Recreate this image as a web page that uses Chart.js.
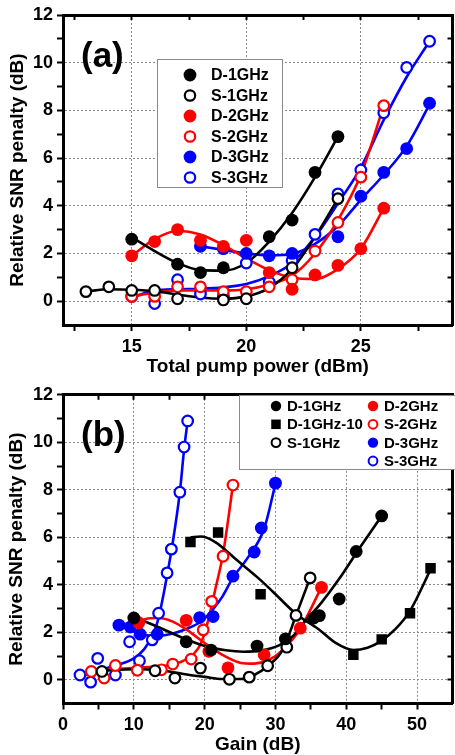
<!DOCTYPE html>
<html>
<head>
<meta charset="utf-8">
<script src="https://cdn.jsdelivr.net/npm/chart.js@4.4.1/dist/chart.umd.min.js"></script>
<style>
  html, body { margin: 0; padding: 0; background: #fff; overflow: hidden; }
  #wrap { position: relative; width: 455px; height: 755px; overflow: hidden; }
  canvas { position: absolute; left: 0; }
</style>
</head>
<body>
<div id="wrap">
  <canvas id="chartA" width="460" height="380" style="top:0"></canvas>
  <canvas id="chartB" width="460" height="375" style="top:380px"></canvas>
</div>
<script>
// ---------- panel (a): penalty vs total pump power (dBm) ----------
var aD1x = [15, 17, 18, 19, 21, 22, 23, 24];
var aD1y = [2.6, 1.55, 1.2, 1.4, 2.7, 3.4, 5.4, 6.9];
var aS1x = [13, 14, 15, 16, 17, 19, 20, 22, 24];
var aS1y = [0.4, 0.6, 0.45, 0.45, 0.1, 0.05, 0.1, 1.4, 4.3];
var aD2x = [15, 16, 17, 18, 19, 20, 21, 22, 23, 24, 25, 26];
var aD2y = [1.9, 2.5, 3.0, 2.55, 2.3, 2.55, 1.2, 0.5, 1.1, 1.5, 2.2, 3.9];
var aS2x = [15, 16, 17, 18, 19, 20, 21, 22, 23, 24, 25, 26];
var aS2y = [0.2, 0.2, 0.6, 0.6, 0.4, 0.4, 0.6, 0.9, 2.1, 3.3, 5.2, 8.2];
var aD3x = [18, 19, 20, 21, 22, 24, 25, 26, 27, 28];
var aD3y = [2.3, 2.2, 2.0, 1.9, 2.0, 2.7, 4.4, 5.4, 6.4, 8.3];
var aS3x = [15, 16, 17, 18, 19, 20, 21, 22, 23, 24, 25, 26, 27, 28];
var aS3y = [0.2, -0.1, 0.9, 0.3, 0.2, 1.6, 0.8, 1.7, 2.8, 4.5, 5.5, 7.9, 9.8, 10.9];

// fitted curves in (a)
var aD1fx = [15, 16, 17, 18, 19, 20, 21, 22, 23, 24];
var aD1fy = [2.68, 2.1, 1.6, 1.3, 1.28, 1.6, 2.5, 3.7, 5.2, 6.9];
var aS1fx = [13, 14, 15, 16, 17, 18, 19, 20, 21, 22, 23, 24];
var aS1fy = [0.4, 0.5, 0.48, 0.42, 0.28, 0.15, 0.1, 0.2, 0.55, 1.35, 2.7, 4.3];
var aD2fx = [15, 16, 17, 18, 19, 20, 21, 22, 23, 24, 25, 26];
var aD2fy = [1.9, 2.6, 2.95, 2.8, 2.35, 1.8, 1.3, 0.98, 0.93, 1.35, 2.2, 3.9];
var aS2fx = [15, 16, 17, 18, 19, 20, 21, 22, 23, 24, 25, 26];
var aS2fy = [0.2, 0.35, 0.45, 0.45, 0.45, 0.5, 0.7, 1.07, 2.0, 3.4, 5.3, 8.2];
var aD3fx = [18, 19, 20, 21, 22, 23, 24, 25, 26, 27, 28];
var aD3fy = [2.3, 2.15, 2.0, 1.92, 1.98, 2.4, 3.15, 4.25, 5.3, 6.5, 8.25];
var aS3fx = [15, 16, 17, 18, 19, 20, 21, 22, 23, 24, 25, 26, 27, 28];
var aS3fy = [0.15, 0.45, 0.5, 0.52, 0.58, 0.72, 1.05, 1.6, 2.7, 4.1, 5.6, 7.6, 9.4, 10.9];

// ---------- panel (b): penalty vs gain (dB) ----------
var bD1x = [10, 17.4, 20.9, 27.4, 31.4, 35.4, 36.2, 39, 41.4, 45];
var bD1y = [2.6, 1.6, 1.25, 1.42, 1.72, 2.6, 2.7, 3.4, 5.4, 6.9];
var bD10x = [18, 21.9, 27.9, 41, 45, 49, 51.9];
var bD10y = [5.8, 6.2, 3.6, 1.05, 1.7, 2.8, 4.7];
var bS1x = [5.5, 13, 15.8, 19.4, 23.5, 26.3, 28.9, 31.6, 32.9, 34.9];
var bS1y = [0.35, 0.38, 0.07, 0.49, 0.02, 0.11, 0.59, 1.37, 2.71, 4.29];
var bD2x = [10.7, 17.4, 20.6, 23.3, 28.4, 33.5, 36.5];
var bD2y = [2.4, 2.5, 1.2, 0.5, 1.05, 2.17, 3.89];
var bS2x = [4, 5.8, 7.4, 10.5, 13.9, 15.5, 18.1, 19.8, 21, 22.6, 24];
var bS2y = [0.35, 0.07, 0.6, 0.4, 0.42, 0.66, 0.87, 2.1, 3.3, 5.2, 8.2];
var bD3x = [7.9, 9.5, 10.9, 13.3, 19.3, 21.2, 24, 27, 28, 30];
var bD3y = [2.3, 2.22, 1.92, 1.92, 2.62, 2.66, 4.36, 5.38, 6.39, 8.28];
var bS3x = [2.4, 3.9, 4.9, 7.4, 9.4, 10.8, 12.6, 13.5, 14.7, 15.3, 16.5, 17.1, 17.6];
var bS3y = [0.2, -0.1, 0.9, 0.2, 1.6, 0.8, 1.68, 2.8, 4.5, 5.5, 7.9, 9.8, 10.9];

// fitted curves in (b)
var bD1fx = [10, 12, 14, 17, 20, 23, 25.5, 28, 30.5, 32.5, 34, 36.5, 39, 42, 45];
var bD1fy = [2.63, 2.4, 2.15, 1.75, 1.42, 1.24, 1.18, 1.23, 1.45, 1.85, 2.4, 3.25, 4.25, 5.6, 6.9];
var bD10fx = [18, 19.5, 21.5, 24.5, 27.5, 29.5, 33, 36, 38.5, 41, 43, 45, 47, 49, 52];
var bD10fy = [6.0, 6.03, 5.8, 5.05, 4.3, 3.75, 2.75, 2.15, 1.55, 1.25, 1.35, 1.65, 2.15, 2.9, 4.7];
var bS1fx = [5.5, 8, 11, 13, 15, 17.5, 20, 22.5, 25, 27, 29, 31, 32.9, 34.9];
var bS1fy = [0.38, 0.42, 0.44, 0.42, 0.35, 0.22, 0.12, 0.03, 0.03, 0.2, 0.6, 1.25, 2.7, 4.3];
var bD2fx = [10.5, 12, 13.5, 15.5, 17.5, 20, 22.5, 25, 27, 29, 31, 33.5, 36.5];
var bD2fy = [2.42, 2.58, 2.6, 2.45, 2.1, 1.55, 1.05, 0.72, 0.68, 0.82, 1.25, 2.15, 3.9];
var bS2fx = [3, 5, 7.5, 10, 12.5, 15, 17, 18.5, 19.5, 20.5, 21.5, 22.6, 24];
var bS2fy = [0.3, 0.38, 0.45, 0.5, 0.55, 0.62, 0.8, 1.1, 1.55, 2.5, 3.8, 5.3, 8.2];
var bD3fx = [7.9, 9.5, 11, 13.5, 15.5, 17.5, 19.5, 21, 22.5, 24, 26, 28.4, 30];
var bD3fy = [2.28, 2.1, 1.92, 1.85, 1.95, 2.15, 2.45, 2.9, 3.5, 4.3, 5.1, 6.36, 8.25];
var bS3fx = [2.5, 5, 7.5, 10, 11.5, 12.5, 13.3, 14, 14.7, 15.4, 16.5, 17.1, 17.6];
var bS3fy = [0.12, 0.4, 0.6, 0.9, 1.3, 1.8, 2.4, 3.3, 4.4, 5.6, 7.9, 9.7, 10.9];

// tick values (labels only on the major ones)
var aXTicks = [12.5, 15, 17.5, 20, 22.5, 25, 27.5];
var bXTicks = [0, 5, 10, 15, 20, 25, 30, 35, 40, 45, 50];
var yTicks = [0, 1, 2, 3, 4, 5, 6, 7, 8, 9, 10, 11, 12];

var BLACK = '#000000', RED = '#ff0000', BLUE = '#0000ff';

Chart.defaults.font.family = '"Liberation Sans", Arial, Helvetica, sans-serif';
Chart.defaults.color = '#000';

function xy(xs, ys) {
  return xs.map(function (x, i) { return {x: x, y: ys[i]}; });
}

function marks(label, xs, ys, color, kind) {
  var open = kind === 'open', sq = kind === 'square';
  var r = open ? 5.3 : (sq ? 7.4 : 6.4);
  return {
    label: label,
    data: xy(xs, ys),
    showLine: false,
    order: 1,
    pointStyle: sq ? 'rect' : 'circle',
    pointRadius: r,
    pointHoverRadius: r,
    pointBackgroundColor: open ? '#ffffff' : color,
    pointBorderColor: color,
    pointBorderWidth: open ? 2.2 : 0
  };
}

function curve(xs, ys, color) {
  return {
    data: xy(xs, ys),
    showLine: true,
    order: 2,
    pointRadius: 0,
    pointHoverRadius: 0,
    borderColor: color,
    borderWidth: 2.6,
    cubicInterpolationMode: 'monotone',
    fill: false
  };
}

function axes(o) {
  var tickFont = {size: 18, weight: 'bold'};
  var clear = 'rgba(0,0,0,0)';
  function xMajor(v) { return v % o.xStep === 0; }
  function yMajor(v) { return v % 2 === 0; }
  return {
    x: {
      type: 'linear', position: 'bottom', min: o.xMin, max: o.xMax,
      afterBuildTicks: function (s) { s.ticks = o.xTicks.map(function (v) { return {value: v}; }); },
      afterFit: function (s) { s.height = o.bottomH; },
      ticks: {
        autoSkip: false, maxRotation: 0, minRotation: 0, padding: 5, font: tickFont, color: '#000',
        callback: function (v) { return xMajor(v) ? String(v) : ''; }
      },
      grid: {
        color: function (c) { return c.tick && xMajor(c.tick.value) && c.tick.value > o.xMin ? '#8a8a8a' : clear; },
        lineWidth: 1, tickLength: 6, tickWidth: 2, tickColor: '#000'
      },
      border: {color: '#000', width: 3, dash: [2, 2]},
      title: {
        display: true, text: o.xTitle, color: '#000',
        font: {size: 19, weight: 'bold', lineHeight: 1},
        padding: {top: 0, bottom: o.xTitlePad}
      }
    },
    x2: {
      type: 'linear', position: 'top', min: o.xMin, max: o.xMax,
      afterBuildTicks: function (s) { s.ticks = o.xTicks.map(function (v) { return {value: v}; }); },
      afterFit: function (s) { s.height = o.topH; },
      ticks: {display: false},
      grid: {drawOnChartArea: false, tickLength: -5, tickWidth: 2, tickColor: '#000'},
      border: {color: '#000', width: 3}
    },
    y: {
      type: 'linear', position: 'left', min: -1, max: 12,
      afterBuildTicks: function (s) { s.ticks = yTicks.map(function (v) { return {value: v}; }); },
      afterFit: function (s) { s.width = o.leftW; },
      ticks: {
        autoSkip: false, padding: 4, font: tickFont, color: '#000',
        callback: function (v) { return yMajor(v) ? String(v) : ''; }
      },
      grid: {
        color: function (c) { return c.tick && yMajor(c.tick.value) && c.tick.value < 12 ? '#8a8a8a' : clear; },
        lineWidth: 1, tickLength: 6, tickWidth: 2, tickColor: '#000'
      },
      border: {color: '#000', width: 3, dash: [2, 2]},
      title: {
        display: true, text: 'Relative SNR penalty (dB)', color: '#000',
        font: {size: 19, weight: 'bold', lineHeight: 1},
        padding: {top: o.yTitlePad, bottom: 0}
      }
    },
    y2: {
      type: 'linear', position: 'right', min: -1, max: 12,
      afterBuildTicks: function (s) { s.ticks = yTicks.map(function (v) { return {value: v}; }); },
      afterFit: function (s) { s.width = o.rightW; },
      ticks: {display: false},
      grid: {drawOnChartArea: false, tickLength: -5, tickWidth: 2, tickColor: '#000'},
      border: {color: '#000', width: 3}
    }
  };
}

// panel letter + boxed legend drawn on top of the plot
var panelDecor = {
  id: 'panelDecor',
  afterDraw: function (chart, args, o) {
    var ctx = chart.ctx;
    ctx.save();
    ctx.fillStyle = '#000';
    ctx.textAlign = 'left';
    ctx.textBaseline = 'middle';
    ctx.font = 'bold 35px "Liberation Sans", Arial, sans-serif';
    ctx.fillText(o.letter, o.letterX, o.letterY);

    var b = o.box;
    ctx.fillStyle = '#fff';
    ctx.fillRect(b[0], b[1], b[2], b[3]);
    ctx.strokeStyle = '#8a8a8a';
    ctx.lineWidth = 1;
    ctx.strokeRect(b[0] + 0.5, b[1] + 0.5, b[2], b[3]);

    ctx.font = 'bold ' + o.fontSize + 'px "Liberation Sans", Arial, sans-serif';
    o.items.forEach(function (it) {
      var ds = chart.data.datasets[it.ds];
      var color = ds.pointBorderColor;
      var mx = it.x, my = it.y;
      ctx.beginPath();
      if (ds.pointStyle === 'rect') {
        var h = o.sq / 2;
        ctx.fillStyle = color;
        ctx.fillRect(mx - h, my - h, o.sq, o.sq);
      } else if (ds.pointBorderWidth > 0) {
        ctx.arc(mx, my, o.rOpen, 0, Math.PI * 2);
        ctx.fillStyle = '#fff';
        ctx.fill();
        ctx.lineWidth = o.lwOpen;
        ctx.strokeStyle = color;
        ctx.stroke();
      } else {
        ctx.arc(mx, my, o.rFill, 0, Math.PI * 2);
        ctx.fillStyle = color;
        ctx.fill();
      }
      ctx.fillStyle = '#000';
      ctx.fillText(ds.label, it.tx, my + 1);
    });
    ctx.restore();
  }
};

// ---------- chart (a) ----------
var dsA = [
  marks('D-1GHz', aD1x, aD1y, BLACK, 'fill'),
  marks('S-1GHz', aS1x, aS1y, BLACK, 'open'),
  marks('D-2GHz', aD2x, aD2y, RED, 'fill'),
  marks('S-2GHz', aS2x, aS2y, RED, 'open'),
  marks('D-3GHz', aD3x, aD3y, BLUE, 'fill'),
  marks('S-3GHz', aS3x, aS3y, BLUE, 'open'),
  curve(aD1fx, aD1fy, BLACK),
  curve(aS1fx, aS1fy, BLACK),
  curve(aD2fx, aD2fy, RED),
  curve(aS2fx, aS2fy, RED),
  curve(aD3fx, aD3fy, BLUE),
  curve(aS3fx, aS3fy, BLUE)
];

var legendRowsA = [75, 95.5, 116, 136.5, 157, 177.5];

new Chart(document.getElementById('chartA'), {
  type: 'scatter',
  data: {datasets: dsA},
  options: {
    responsive: false,
    animation: false,
    events: [],
    layout: {padding: 0},
    plugins: {
      legend: {display: false},
      tooltip: {enabled: false},
      panelDecor: {
        letter: '(a)', letterX: 81, letterY: 57,
        box: [157, 59, 125, 128], fontSize: 16,
        rFill: 6.4, rOpen: 5.2, lwOpen: 2.2, sq: 10,
        items: [0, 1, 2, 3, 4, 5].map(function (i) {
          return {ds: i, x: 190, tx: 211, y: legendRowsA[i]};
        })
      }
    },
    scales: axes({
      xMin: 12, xMax: 29, xStep: 5, xTicks: aXTicks, xTitle: 'Total pump power (dBm)',
      bottomH: 55, topH: 15, leftW: 63, rightW: 4, xTitlePad: 3.5, yTitlePad: 8.5
    })
  },
  plugins: [panelDecor]
});

// ---------- chart (b) ----------
var dsB = [
  marks('D-1GHz', bD1x, bD1y, BLACK, 'fill'),
  marks('D-1GHz-10', bD10x, bD10y, BLACK, 'square'),
  marks('S-1GHz', bS1x, bS1y, BLACK, 'open'),
  marks('D-2GHz', bD2x, bD2y, RED, 'fill'),
  marks('S-2GHz', bS2x, bS2y, RED, 'open'),
  marks('D-3GHz', bD3x, bD3y, BLUE, 'fill'),
  marks('S-3GHz', bS3x, bS3y, BLUE, 'open'),
  curve(bD1fx, bD1fy, BLACK),
  curve(bD10fx, bD10fy, BLACK),
  curve(bS1fx, bS1fy, BLACK),
  curve(bD2fx, bD2fy, RED),
  curve(bS2fx, bS2fy, RED),
  curve(bD3fx, bD3fy, BLUE),
  curve(bS3fx, bS3fy, BLUE)
];

var legendRowsB = [26, 44.3, 62.6, 81];

new Chart(document.getElementById('chartB'), {
  type: 'scatter',
  data: {datasets: dsB},
  options: {
    responsive: false,
    animation: false,
    events: [],
    layout: {padding: 0},
    plugins: {
      legend: {display: false},
      tooltip: {enabled: false},
      panelDecor: {
        letter: '(b)', letterX: 81, letterY: 56,
        box: [239, 15, 225, 74], fontSize: 15,
        rFill: 5.2, rOpen: 4.4, lwOpen: 2, sq: 9.5,
        items: [
          {ds: 0, x: 276, tx: 287, y: legendRowsB[0]},
          {ds: 1, x: 276, tx: 287, y: legendRowsB[1]},
          {ds: 2, x: 276, tx: 287, y: legendRowsB[2]},
          {ds: 3, x: 373, tx: 384, y: legendRowsB[0]},
          {ds: 4, x: 373, tx: 384, y: legendRowsB[1]},
          {ds: 5, x: 373, tx: 384, y: legendRowsB[2]},
          {ds: 6, x: 373, tx: 384, y: legendRowsB[3]}
        ]
      }
    },
    scales: axes({
      xMin: 0, xMax: 55, xStep: 10, xTicks: bXTicks, xTitle: 'Gain (dB)',
      bottomH: 51.5, topH: 14, leftW: 63, rightW: 2.5, xTitlePad: 0.5, yTitlePad: 7.5
    })
  },
  plugins: [panelDecor]
});
</script>
</body>
</html>
